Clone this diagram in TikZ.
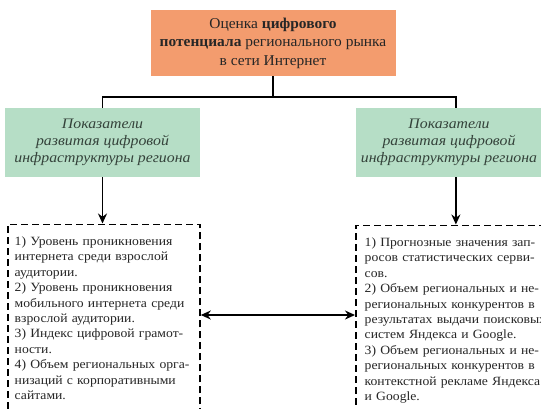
\documentclass[tikz,border=0pt]{standalone}
\usepackage{fontspec}
\setmainfont{Liberation Serif}
\newfontfamily\headfont[FakeStretch=1.03]{Liberation Serif}
\newfontfamily\groupfont[FakeStretch=1.09]{Liberation Serif}
\newfontfamily\listfont[FakeStretch=1.085]{Liberation Serif}
\usetikzlibrary{arrows.meta}
\definecolor{headfill}{HTML}{F39C6E}
\definecolor{groupfill}{HTML}{B6DEC6}
\definecolor{grouptext}{HTML}{34423A}
\definecolor{inktext}{HTML}{262626}
\begin{document}
\begin{tikzpicture}[x=1pt,y=-1pt,
  headbox/.style={fill=headfill, draw=none, minimum width=245pt, minimum height=66pt,
    align=center, inner sep=0pt, text=inktext,
    font=\headfont\fontsize{15pt}{18.5pt}\selectfont},
  groupbox/.style={fill=groupfill, draw=none, minimum height=69pt,
    align=center, inner sep=0pt, text=grouptext,
    font=\groupfont\fontsize{14.5pt}{16.7pt}\selectfont\itshape},
  listframe/.style={draw=black, line width=1.8pt, dash pattern=on 7pt off 4pt,
    anchor=north west, minimum height=230pt, inner sep=0pt},
  listtext/.style={anchor=north west, text width=300pt, align=left,
    inner sep=0pt, text=inktext,
    font=\listfont\fontsize{12.6pt}{15.4pt}\selectfont},
  link/.style={draw=black, line width=1.6pt},
  tip/.style={-{Stealth[length=10pt,width=9pt]}}
]
\useasboundingbox (0,0) rectangle (541,408);
\clip (0,0) rectangle (541,408);
\fill[white] (0,0) rectangle (541,408);

% top heading box
\node[headbox] (head) at (273,43)
  {Оценка \textbf{цифрового}\\\textbf{потенциала} регионального рынка\\в сети Интернет};

% two indicator groups
\node[groupbox, minimum width=195pt] (gL) at (102.5,142.5)
  {Показатели\\развитая цифровой\\инфраструктуры региона};
\node[groupbox, minimum width=186pt] (gR) at (449,142.5)
  {Показатели\\развитая цифровой\\инфраструктуры региона};

% dashed frames of the indicator lists (they run past the lower and right edges)
\node[listframe, minimum width=192pt] (dL) at (7,223.5) {};
\node[listframe, minimum width=200pt] (dR) at (355,224.5) {};

% list contents
\node[listtext] (tL) at (14.5,236.5)
  {1) Уровень проникновения\\
   интернета среди взрослой\\
   аудитории.\\
   2) Уровень проникновения\\
   мобильного интернета среди\\
   взрослой аудитории.\\
   3) Индекс цифровой грамот-\\
   ности.\\
   4) Объем региональных орга-\\
   низаций с корпоративными\\
   сайтами.};
\node[listtext] (tR) at (364.5,237.5)
  {1) Прогнозные значения зап-\\
   росов статистических серви-\\
   сов.\\
   2) Объем региональных и не-\\
   региональных конкурентов в\\
   результатах выдачи поисковых\\
   систем Яндекса и Google.\\
   3) Объем региональных и не-\\
   региональных конкурентов в\\
   контекстной рекламе Яндекса\\
   и Google.};

% branching connector from the heading
\coordinate (bus) at (head.south |- 0,97);
\draw[link] (head.south) -- (bus);
\draw[link] (gL.north) |- (bus) -| (dR.north |- gR.north);

% arrows into the lists
\draw[link, tip] (gL.south) -- (gL.south |- dL.north);
\draw[link, tip] (dR.north |- gR.south) -- (dR.north);

% mutual link between the lists
\draw[link, {Stealth[length=10pt,width=9pt]}-{Stealth[length=10pt,width=9pt]}]
  (dL.east |- 0,315) -- (dR.west |- 0,315);
\end{tikzpicture}
\end{document}
